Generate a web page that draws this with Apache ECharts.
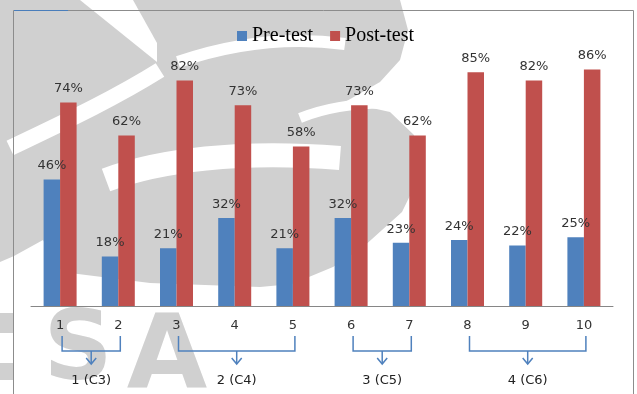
<!DOCTYPE html>
<html>
<head>
<meta charset="utf-8">
<script src="https://cdn.jsdelivr.net/npm/echarts@6/dist/echarts.min.js"></script>
<style>
  html, body { margin: 0; padding: 0; background: #fff; }
  #chart { width: 637px; height: 394px; }
</style>
</head>
<body>
<div id="chart"></div>
<script>
// Question numbers on the x axis
const categories = ['1', '2', '3', '4', '5', '6', '7', '8', '9', '10'];
// Percentage of correct answers per question
const preTest = [46, 18, 21, 32, 21, 32, 23, 24, 22, 25];
const postTest = [74, 62, 82, 73, 58, 73, 62, 85, 82, 86];
// Question groups shown with brackets under the axis
const groupLabels = ['1 (C3)', '2 (C4)', '3 (C5)', '4 (C6)'];
const groupSpans = [[0, 1], [2, 4], [5, 6], [7, 9]];

const BLUE = '#4F81BD';
const RED = '#C0504D';
const WM = '#d0d0d0';
const labelFont = 'DejaVu Sans';

const chart = echarts.init(document.getElementById('chart'), null, { renderer: 'canvas' });

const barLabel = {
  show: true,
  position: 'top',
  distance: 7,
  formatter: '{c}%',
  color: '#333',
  fontFamily: labelFont,
  fontSize: 13
};

chart.setOption({
  animation: false,
  backgroundColor: '#fff',
  legend: {
    left: 232,
    top: 21,
    itemWidth: 10,
    itemHeight: 10,
    itemGap: 17,
    icon: 'rect',
    textStyle: { fontFamily: 'Liberation Serif', fontSize: 20, color: '#000' },
    data: ['Pre-test', 'Post-test']
  },
  grid: { left: 31, right: 24, top: 31, bottom: 88 },
  xAxis: {
    type: 'category',
    data: categories,
    axisLine: { lineStyle: { color: '#868686', width: 1 } },
    axisTick: { show: false },
    axisLabel: { color: '#333', fontFamily: labelFont, fontSize: 13, margin: 13 }
  },
  yAxis: {
    type: 'value',
    min: 0,
    max: 100,
    show: false,
    splitLine: { show: false }
  },
  series: [
    {
      name: 'Pre-test',
      type: 'bar',
      data: preTest,
      barWidth: 16.5,
      barGap: '0%',
      itemStyle: { color: BLUE },
      label: barLabel,
      z: 3
    },
    {
      name: 'Post-test',
      type: 'bar',
      data: postTest,
      barWidth: 16.5,
      barGap: '0%',
      itemStyle: { color: RED },
      label: barLabel,
      z: 3
    }
  ]
});

// Faint logo watermark behind the plot
function whiteBand(p, w) {
  return {
    type: 'bezierCurve', silent: true, z: -9,
    shape: { x1: p[0], y1: p[1], cpx1: p[2], cpy1: p[3], cpx2: p[4], cpy2: p[5], x2: p[6], y2: p[7] },
    style: { stroke: '#fff', lineWidth: w, fill: null }
  };
}
function grayBlock(x, y, w, h) {
  return { type: 'rect', silent: true, z: -10, shape: { x: x, y: y, width: w, height: h }, style: { fill: WM } };
}
const watermark = [
  {
    type: 'polygon', silent: true, z: -10,
    shape: { points: [[0, 0], [400, 0], [408, 30], [400, 60], [380, 82], [345, 102], [390, 112], [414, 135],
      [420, 175], [402, 212], [362, 248], [333, 267], [292, 284], [260, 287], [150, 283], [62, 272],
      [43, 240], [14, 256], [0, 262]] },
    style: { fill: WM }
  },
  {
    type: 'polygon', silent: true, z: -9,
    shape: { points: [[80, 0], [133, 0], [157, 43], [157, 62]] },
    style: { fill: '#fff' }
  },
  whiteBand([10, 148, 60, 124, 112, 100, 160, 70], 16),
  whiteBand([178, 62, 230, 44, 285, 36, 345, 44], 12),
  whiteBand([300, 118, 330, 106, 362, 102, 400, 104], 10),
  whiteBand([106, 180, 160, 160, 240, 150, 340, 158], 24),
  grayBlock(0, 313, 13, 20),
  grayBlock(0, 363, 13, 17),
  {
    type: 'text', silent: true, z: -10,
    style: { text: 'S', x: 78, y: 306, fill: WM, font: 'bold 96px "DejaVu Sans"', textAlign: 'center', textVerticalAlign: 'top', verticalAlign: 'top' }
  },
  {
    type: 'text', silent: true, z: -10,
    style: { text: 'A', x: 167, y: 309, fill: WM, font: 'bold 104px "DejaVu Sans"', textAlign: 'center', textVerticalAlign: 'top', verticalAlign: 'top' }
  }
];

// Frame around the chart area
const frame = [
  {
    type: 'rect', silent: true, z: 1,
    shape: { x: 13.5, y: 10.5, width: 620, height: 400 },
    style: { fill: null, stroke: '#8c8c8c', lineWidth: 1 }
  },
  {
    type: 'line', silent: true, z: 2,
    shape: { x1: 14, y1: 10.5, x2: 68, y2: 10.5 },
    style: { stroke: '#4a7ebb', lineWidth: 1 }
  }
];

// Brackets grouping the questions, placed from the axis scale
const baseY = chart.convertToPixel({ yAxisIndex: 0 }, 0);
const brackets = [];
groupSpans.forEach(function (span, i) {
  const xa = chart.convertToPixel({ xAxisIndex: 0 }, span[0]) + 2;
  const xb = chart.convertToPixel({ xAxisIndex: 0 }, span[1]) + 2;
  const mx = (xa + xb) / 2;
  const yTop = baseY + 30;
  const yBar = baseY + 45;
  const yArrow = baseY + 58;
  brackets.push({
    type: 'polyline', silent: true, z: 5,
    shape: { points: [[xa, yTop], [xa, yBar], [xb, yBar], [xb, yTop]] },
    style: { stroke: BLUE, lineWidth: 1.5, fill: null }
  });
  brackets.push({
    type: 'line', silent: true, z: 5,
    shape: { x1: mx, y1: yBar, x2: mx, y2: yArrow },
    style: { stroke: BLUE, lineWidth: 1.5 }
  });
  brackets.push({
    type: 'polyline', silent: true, z: 5,
    shape: { points: [[mx - 5, yArrow - 6], [mx, yArrow], [mx + 5, yArrow - 6]] },
    style: { stroke: BLUE, lineWidth: 1.5, fill: null }
  });
  brackets.push({
    type: 'text', silent: true, z: 5,
    style: {
      text: groupLabels[i], x: mx, y: baseY + 75,
      fill: '#222', font: '13px "DejaVu Sans"',
      textAlign: 'center', textVerticalAlign: 'middle', verticalAlign: 'middle'
    }
  });
});

chart.setOption({ graphic: { elements: watermark.concat(frame, brackets) } });
</script>
</body>
</html>
